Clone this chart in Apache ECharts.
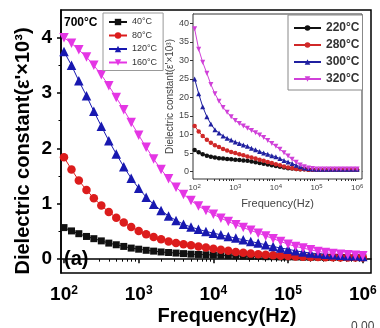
<!DOCTYPE html>
<html>
<head>
<meta charset="utf-8">
<script src="https://cdn.jsdelivr.net/npm/echarts@6/dist/echarts.min.js"></script>
<style>
html, body { margin: 0; padding: 0; background: #fff; }
#chart { width: 380px; height: 328px; }
</style>
</head>
<body>
<div id="chart"></div>
<script>
// measuring frequencies (Hz)
var freq = [100, 126, 158, 200, 251, 316, 398, 501, 631, 794,
    1000, 1259, 1585, 1995, 2512, 3162, 3981, 5012, 6310, 7943,
    10000, 12589, 15849, 19953, 25119, 31623, 39811, 50119, 63096, 79433,
    100000, 125893, 158489, 199526, 251189, 316228, 398107, 501187, 630957, 794328, 1000000];

// main panel, eps' (x10^3)
var mainNames = ['40°C', '80°C', '120°C', '160°C'];
var t40 = [0.57, 0.51, 0.46, 0.41, 0.37, 0.33, 0.29, 0.26, 0.23, 0.20,
    0.18, 0.16, 0.145, 0.13, 0.12, 0.11, 0.10, 0.09, 0.085, 0.08,
    0.075, 0.07, 0.065, 0.06, 0.055, 0.05, 0.05, 0.045, 0.045, 0.04,
    0.04, 0.04, 0.035, 0.035, 0.035, 0.03, 0.03, 0.03, 0.03, 0.03, 0.03];
var t80 = [1.84, 1.62, 1.42, 1.25, 1.10, 0.97, 0.85, 0.75, 0.66, 0.58,
    0.51, 0.45, 0.40, 0.36, 0.32, 0.29, 0.27, 0.25, 0.23, 0.21,
    0.19, 0.17, 0.15, 0.13, 0.115, 0.10, 0.09, 0.08, 0.07, 0.06,
    0.055, 0.05, 0.045, 0.04, 0.04, 0.035, 0.035, 0.03, 0.03, 0.03, 0.03];
var t120 = [3.75, 3.50, 3.22, 2.95, 2.67, 2.40, 2.14, 1.90, 1.67, 1.46,
    1.28, 1.12, 0.99, 0.88, 0.78, 0.70, 0.63, 0.58, 0.54, 0.50,
    0.47, 0.44, 0.41, 0.38, 0.35, 0.32, 0.29, 0.26, 0.23, 0.20,
    0.18, 0.15, 0.13, 0.11, 0.10, 0.09, 0.08, 0.07, 0.06, 0.06, 0.05];
var t160 = [4.00, 3.90, 3.78, 3.65, 3.50, 3.33, 3.13, 2.92, 2.70, 2.47,
    2.24, 2.02, 1.81, 1.62, 1.45, 1.30, 1.17, 1.06, 0.96, 0.88,
    0.81, 0.74, 0.68, 0.62, 0.57, 0.52, 0.47, 0.42, 0.37, 0.32,
    0.27, 0.23, 0.20, 0.17, 0.14, 0.12, 0.10, 0.09, 0.08, 0.07, 0.06];

// inset, eps' (x10^3)
var insetNames = ['220°C', '280°C', '300°C', '320°C'];
var t220 = [5.8, 5.2, 4.7, 4.3, 4.0, 3.8, 3.6, 3.5, 3.4, 3.3,
    3.2, 3.1, 3.0, 2.9, 2.7, 2.5, 2.3, 2.1, 1.9, 1.7,
    1.5, 1.3, 1.1, 0.9, 0.8, 0.7, 0.6, 0.6, 0.5, 0.5,
    0.5, 0.5, 0.5, 0.5, 0.5, 0.5, 0.5, 0.5, 0.5, 0.5, 0.5];
var t280 = [12.3, 10.8, 9.6, 8.6, 7.8, 7.1, 6.6, 6.1, 5.7, 5.3,
    5.0, 4.7, 4.4, 4.1, 3.8, 3.5, 3.2, 2.9, 2.6, 2.3,
    2.0, 1.7, 1.4, 1.1, 0.9, 0.7, 0.6, 0.6, 0.5, 0.5,
    0.5, 0.5, 0.5, 0.5, 0.5, 0.5, 0.5, 0.5, 0.5, 0.5, 0.5];
var t300 = [25, 21, 17.5, 14.8, 12.8, 11.3, 10.4, 9.6, 9.0, 8.5,
    8.0, 7.6, 7.2, 6.8, 6.3, 5.9, 5.4, 5.0, 4.7, 4.3,
    4.0, 3.5, 3.0, 2.6, 2.2, 1.7, 1.3, 1.0, 0.8, 0.7,
    0.6, 0.6, 0.6, 0.6, 0.6, 0.6, 0.6, 0.6, 0.6, 0.6, 0.6];
var t320 = [38.5, 33, 29.5, 26.5, 23.5, 21, 19, 17.3, 16, 14.8,
    13.8, 13.0, 12.3, 11.7, 11.1, 10.5, 9.9, 9.2, 8.4, 7.6,
    6.8, 6.0, 5.1, 4.2, 3.3, 2.5, 1.8, 1.3, 1.0, 0.8,
    0.7, 0.7, 0.7, 0.7, 0.7, 0.7, 0.7, 0.7, 0.7, 0.7, 0.7];

// tick labels
var decades = [2, 3, 4, 5, 6];
var mainYTicks = [0, 1, 2, 3, 4];
var mainYMinor = [0.5, 1.5, 2.5, 3.5];
var insetYTicks = [0, 5, 10, 15, 20, 25, 30, 35, 40];

var FONT = 'Liberation Sans';
var downTri = 'path://M0,0 L10,0 L5,9 Z';

// minor ticks of the log axis: 2..9 x 10^n
var minorLog = [];
for (var n = 2; n < 6; n++) {
    for (var k = 2; k < 10; k++) {
        minorLog.push(Math.log10(k * Math.pow(10, n)));
    }
}

function pairs(vals) {
    return vals.map(function (v, i) {
        return [Math.log10(freq[i]), v];
    });
}

function line(name, vals, color, symbol, size, idx) {
    return {
        type: 'line',
        name: name,
        xAxisIndex: idx,
        yAxisIndex: idx,
        data: pairs(vals),
        symbol: symbol,
        symbolSize: size,
        showSymbol: true,
        lineStyle: {color: color, width: 1},
        itemStyle: {color: color},
        animation: false,
        z: idx === 2 ? 5 : 2
    };
}

function powLabel(v) {
    return '{b|10}{s|' + v + '}';
}

var chart = echarts.init(document.getElementById('chart'));

var option = {
    backgroundColor: '#fff',
    textStyle: {fontFamily: FONT},
    grid: [
        {left: 61, top: 10, width: 310, height: 263, show: true, borderColor: '#000', borderWidth: 1.5, backgroundColor: 'transparent'},
        {left: 193, top: 14, width: 169, height: 165, show: true, borderColor: '#333', borderWidth: 1, backgroundColor: '#fff', z: 3}
    ],
    legend: [
        {
            data: mainNames, orient: 'vertical', left: 103, top: 13,
            itemWidth: 18, itemHeight: 8, itemGap: 3.5,
            padding: [4, 6, 3, 5],
            borderColor: '#999', borderWidth: 1, backgroundColor: '#fff',
            selectedMode: false,
            textStyle: {fontFamily: FONT, fontSize: 9, color: '#333', lineHeight: 10}
        },
        {
            data: insetNames, orient: 'vertical', left: 288, top: 15,
            itemWidth: 27, itemHeight: 7, itemGap: 5,
            padding: [7, 3, 5, 5],
            borderColor: '#888', borderWidth: 1, backgroundColor: '#fff',
            selectedMode: false, z: 6,
            textStyle: {fontFamily: FONT, fontSize: 12, fontWeight: 'bold', color: '#333', lineHeight: 12}
        }
    ],
    xAxis: [
        {
            type: 'value', gridIndex: 0, min: 1.96, max: 6.11,
            axisLine: {lineStyle: {color: '#000', width: 1.5}},
            axisTick: {customValues: decades, length: 4, lineStyle: {color: '#000', width: 1.5}},
            axisLabel: {
                customValues: decades, margin: 12, formatter: powLabel,
                rich: {
                    b: {fontFamily: FONT, fontSize: 19, fontWeight: 'bold', color: '#000', lineHeight: 20},
                    s: {fontFamily: FONT, fontSize: 12, fontWeight: 'bold', color: '#000', verticalAlign: 'top', lineHeight: 12}
                }
            },
            splitLine: {show: false}
        },
        {
            type: 'value', gridIndex: 0, min: 1.96, max: 6.11, position: 'bottom',
            axisLine: {show: false},
            axisTick: {customValues: minorLog, length: 2.5, lineStyle: {color: '#000', width: 1}},
            axisLabel: {show: false},
            splitLine: {show: false}
        },
        {
            type: 'value', gridIndex: 1, min: 1.96, max: 6.12,
            axisLine: {lineStyle: {color: '#333', width: 1}},
            axisTick: {customValues: decades, length: 3, lineStyle: {color: '#333'}},
            axisLabel: {
                customValues: decades, margin: 4, formatter: powLabel,
                rich: {
                    b: {fontFamily: FONT, fontSize: 8, color: '#444', lineHeight: 9},
                    s: {fontFamily: FONT, fontSize: 6, color: '#444', verticalAlign: 'top', lineHeight: 6}
                }
            },
            splitLine: {show: false},
            name: 'Frequency(Hz)', nameLocation: 'middle', nameGap: 19,
            nameTextStyle: {fontFamily: FONT, fontSize: 11, color: '#444'}
        },
        {
            type: 'value', gridIndex: 1, min: 1.96, max: 6.12, position: 'bottom',
            axisLine: {show: false},
            axisTick: {customValues: minorLog, length: 2, lineStyle: {color: '#333'}},
            axisLabel: {show: false},
            splitLine: {show: false}
        }
    ],
    yAxis: [
        {
            type: 'value', gridIndex: 0, min: -0.25, max: 4.5,
            axisLine: {show: true, lineStyle: {color: '#000', width: 1.5}},
            axisTick: {show: true, customValues: mainYTicks, length: 4, lineStyle: {color: '#000', width: 1.5}},
            axisLabel: {customValues: mainYTicks, margin: 9, fontFamily: FONT, fontSize: 19, fontWeight: 'bold', color: '#000'},
            splitLine: {show: false}
        },
        {
            type: 'value', gridIndex: 0, min: -0.25, max: 4.5, position: 'left',
            axisLine: {show: false},
            axisTick: {show: true, customValues: mainYMinor, length: 2.5, lineStyle: {color: '#000', width: 1}},
            axisLabel: {show: false},
            splitLine: {show: false}
        },
        {
            type: 'value', gridIndex: 1, min: -2, max: 42.5,
            axisLine: {show: true, lineStyle: {color: '#333', width: 1}},
            axisTick: {show: true, customValues: insetYTicks, length: 3, lineStyle: {color: '#333'}},
            axisLabel: {customValues: insetYTicks, margin: 4, fontFamily: FONT, fontSize: 9, color: '#444'},
            splitLine: {show: false},
            name: "Dielectric constant(ε'×10³)", nameLocation: 'middle', nameGap: 17,
            nameTextStyle: {fontFamily: FONT, fontSize: 10, color: '#444'}
        }
    ],
    graphic: [
        {type: 'text', x: 23, y: 151, rotation: Math.PI / 2,
            style: {text: "Dielectric constant(ε'×10³)", font: 'bold 20px "Liberation Sans"', fill: '#000', align: 'center', verticalAlign: 'middle'}},
        {type: 'text', x: 227, y: 316,
            style: {text: 'Frequency(Hz)', font: 'bold 20px "Liberation Sans"', fill: '#000', align: 'center', verticalAlign: 'middle'}},
        {type: 'text', x: 64, y: 23, z: 10,
            style: {text: '700°C', font: 'bold 12px "Liberation Sans"', fill: '#000', verticalAlign: 'middle'}},
        {type: 'text', x: 64, y: 259, z: 10,
            style: {text: '(a)', font: 'bold 20px "Liberation Sans"', fill: '#000', verticalAlign: 'middle'}},
        {type: 'text', x: 351, y: 321,
            style: {text: '0.00', font: '12px "Liberation Sans"', fill: '#444', verticalAlign: 'top'}}
    ],
    series: [
        line(mainNames[0], t40, '#111111', 'rect', 7, 0),
        line(mainNames[1], t80, '#dc1c1c', 'circle', 8.5, 0),
        line(mainNames[2], t120, '#1818b0', 'triangle', 9.5, 0),
        line(mainNames[3], t160, '#e436e4', downTri, 9.5, 0),
        line(insetNames[0], t220, '#111111', 'circle', 4.5, 2),
        line(insetNames[1], t280, '#d02828', 'circle', 4.5, 2),
        line(insetNames[2], t300, '#2020a0', 'triangle', 5, 2),
        line(insetNames[3], t320, '#d040d8', downTri, 5, 2)
    ]
};

chart.setOption(option);
</script>
</body>
</html>
